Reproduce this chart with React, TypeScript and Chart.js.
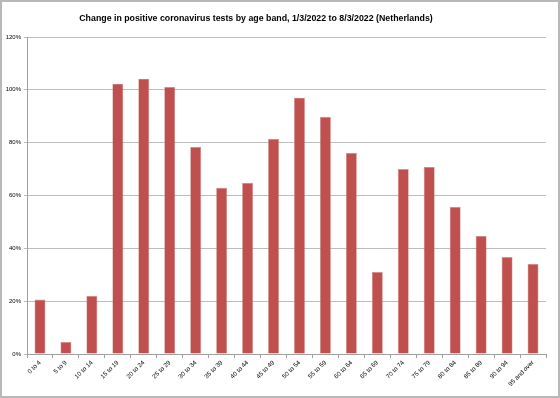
import React, { useEffect, useRef } from "react";
import { Chart, registerables } from "chart.js";

Chart.register(...registerables);

const categories = [
  "0 to 4", "5 to 9", "10 to 14", "15 to 19", "20 to 24", "25 to 29", "30 to 34",
  "35 to 39", "40 to 44", "45 to 49", "50 to 54", "55 to 59", "60 to 64", "65 to 69",
  "70 to 74", "75 to 79", "80 to 84", "85 to 89", "90 to 94", "95 and over",
];
const changePct = [
  20.6, 4.5, 22.0, 102.3, 104.2, 101.1, 78.4, 62.9, 64.8, 81.4,
  97.0, 89.8, 76.1, 31.0, 70.0, 70.8, 55.7, 44.7, 36.7, 34.1,
];
const titleText = "Change in positive coronavirus tests by age band, 1/3/2022 to 8/3/2022 (Netherlands)";

const W = 560;
const H = 398;

export default function App() {
  const ref = useRef<HTMLCanvasElement | null>(null);

  useEffect(() => {
    if (!ref.current) return;
    const framePlugin = {
      id: "frame",
      beforeDraw(chart: any) {
        const ctx = chart.ctx;
        ctx.save();
        ctx.fillStyle = "#ffffff";
        ctx.fillRect(0, 0, W, H);
        ctx.strokeStyle = "#b8b8b8";
        ctx.lineWidth = 2;
        ctx.strokeRect(1, 1, W - 2, H - 2);
        ctx.fillStyle = "#000000";
        ctx.font = "bold 8.8px 'Liberation Sans', sans-serif";
        ctx.textAlign = "center";
        ctx.textBaseline = "middle";
        ctx.fillText(titleText, 256, 19);
        ctx.restore();
      },
    };
    const chart = new Chart(ref.current, {
      type: "bar",
      data: {
        labels: categories,
        datasets: [
          {
            data: changePct,
            backgroundColor: "#C0504D",
            borderColor: "#D08886",
            borderWidth: 0.6,
            categoryPercentage: 1,
            barPercentage: 0.42,
          },
        ],
      },
      options: {
        responsive: false,
        animation: false,
        devicePixelRatio: 1,
        layout: { padding: { top: 37, right: 14, left: 0, bottom: 0 } },
        plugins: {
          legend: { display: false },
          title: { display: false },
          tooltip: { enabled: false },
        },
        scales: {
          x: {
            offset: true,
            grid: {
              offset: true,
              drawOnChartArea: false,
              drawTicks: true,
              tickLength: 4,
              color: "#a0a0a0",
            },
            border: { color: "#a0a0a0" },
            ticks: {
              minRotation: 45,
              maxRotation: 45,
              autoSkip: false,
              color: "#000",
              padding: 1,
              font: { family: "'Liberation Sans', sans-serif", size: 6.3 },
            },
            afterFit(scale: any) {
              scale.height = H - 354;
            },
          },
          y: {
            min: 0,
            max: 120,
            ticks: {
              stepSize: 20,
              color: "#000",
              padding: 3,
              font: { family: "'Liberation Sans', sans-serif", size: 6 },
              callback: (v: any) => v + "%",
            },
            grid: { color: "#bcbcbc", tickLength: 3 },
            border: { color: "#a0a0a0" },
            afterFit(scale: any) {
              scale.width = 27;
            },
          },
        },
      },
      plugins: [framePlugin],
    });
    return () => chart.destroy();
  }, []);

  return (
    <div style={{ position: "fixed", left: 0, top: 0, width: W, height: H }}>
      <canvas ref={ref} width={W} height={H} style={{ display: "block", width: W, height: H }} />
    </div>
  );
}
